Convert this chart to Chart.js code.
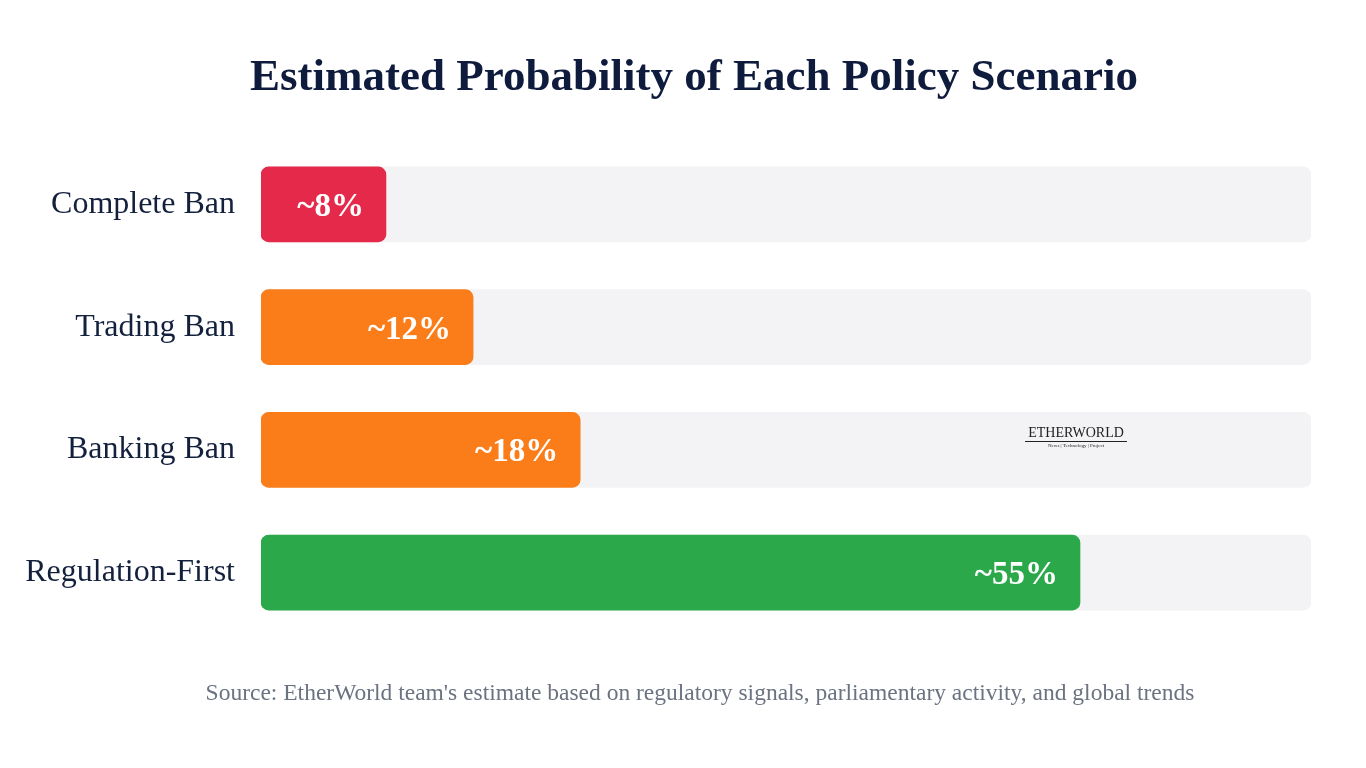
<!DOCTYPE html>
<html>
<head>
<meta charset="utf-8">
<script src="https://cdn.jsdelivr.net/npm/chart.js@4"></script>
<style>
  html, body { margin: 0; padding: 0; background: #ffffff; }
  #wrap { width: 1366px; height: 768px; }
</style>
</head>
<body>
<div id="wrap"><canvas id="probChart" width="1366" height="768"></canvas></div>
<script>
// ---- data
var scenarios = ['Complete Ban', 'Trading Ban', 'Banking Ban', 'Regulation-First'];
var barLengths = [11.9, 20.2, 30.4, 78.0];      // drawn length, % of the track
var probabilityLabels = ['~8%', '~12%', '~18%', '~55%'];
var trackValues = [100, 100, 100, 100];
var barColors = ['#e5294a', '#fa7d19', '#fa7d19', '#2aa84a'];

var titleText = 'Estimated Probability of Each Policy Scenario';
var sourceText = "Source: EtherWorld team's estimate based on regulatory signals, parliamentary activity, and global trends";

var serif = '"Liberation Serif", "DejaVu Serif", serif';

// white value labels inside the end of each bar
var valueLabels = {
    id: 'valueLabels',
    afterDatasetsDraw(chart) {
        var ctx = chart.ctx;
        var meta = chart.getDatasetMeta(0);
        ctx.save();
        ctx.font = 'bold 33px ' + serif;
        ctx.fillStyle = '#ffffff';
        ctx.textAlign = 'right';
        ctx.textBaseline = 'middle';
        meta.data.forEach((bar, i) => {
            ctx.fillText(probabilityLabels[i], bar.x - 22, bar.y + 3);
        });
        ctx.restore();
    }
};

// title + source line, centred a bit right of the page middle like the original
var headerFooter = {
    id: 'headerFooter',
    afterDraw(chart) {
        var ctx = chart.ctx;
        ctx.save();
        ctx.textAlign = 'center';
        ctx.textBaseline = 'middle';
        ctx.fillStyle = '#0f1b3d';
        ctx.font = 'bold 45px ' + serif;
        ctx.fillText(titleText, 694, 78);
        ctx.fillStyle = '#6b7280';
        ctx.font = '23.5px ' + serif;
        ctx.fillText(sourceText, 700, 694);
        ctx.restore();
    }
};

// small EtherWorld mark on the banking track
var watermark = {
    id: 'watermark',
    afterDraw(chart) {
        var ctx = chart.ctx;
        ctx.save();
        ctx.fillStyle = '#222222';
        ctx.textAlign = 'center';
        ctx.textBaseline = 'middle';
        ctx.font = '14px ' + serif;
        ctx.fillText('ETHERWORLD', 1076, 433);
        ctx.fillRect(1025, 441, 102, 1);
        ctx.font = '5px ' + serif;
        ctx.fillText('News | Technology | Project', 1076, 446);
        ctx.restore();
    }
};

var contexto = document.getElementById('probChart').getContext('2d');
var probChart = new Chart(contexto, {
    type: 'bar',
    data: {
        labels: scenarios,
        datasets: [
            {
                label: 'Probability',
                data: barLengths,
                backgroundColor: barColors,
                borderRadius: 8,
                borderSkipped: false,
                barThickness: 75,
                grouped: false,
                order: 1
            },
            {
                label: 'Track',
                data: trackValues,
                backgroundColor: '#f3f3f5',
                borderRadius: 8,
                borderSkipped: false,
                barThickness: 75,
                grouped: false,
                order: 2
            }
        ]
    },
    options: {
        indexAxis: 'y',
        responsive: false,
        animation: false,
        devicePixelRatio: 1,
        layout: { padding: { left: 0, right: 55, top: 143, bottom: 134 } },
        plugins: {
            legend: { display: false },
            tooltip: { enabled: false },
            title: { display: false }
        },
        scales: {
            x: {
                display: false,
                min: 0,
                max: 100
            },
            y: {
                grid: { display: false },
                border: { display: false },
                ticks: {
                    color: '#14213d',
                    padding: 18,
                    font: { family: serif, size: 32 }
                },
                afterFit(scale) { scale.width = 261; }
            }
        }
    },
    plugins: [valueLabels, headerFooter, watermark]
});
</script>
</body>
</html>
